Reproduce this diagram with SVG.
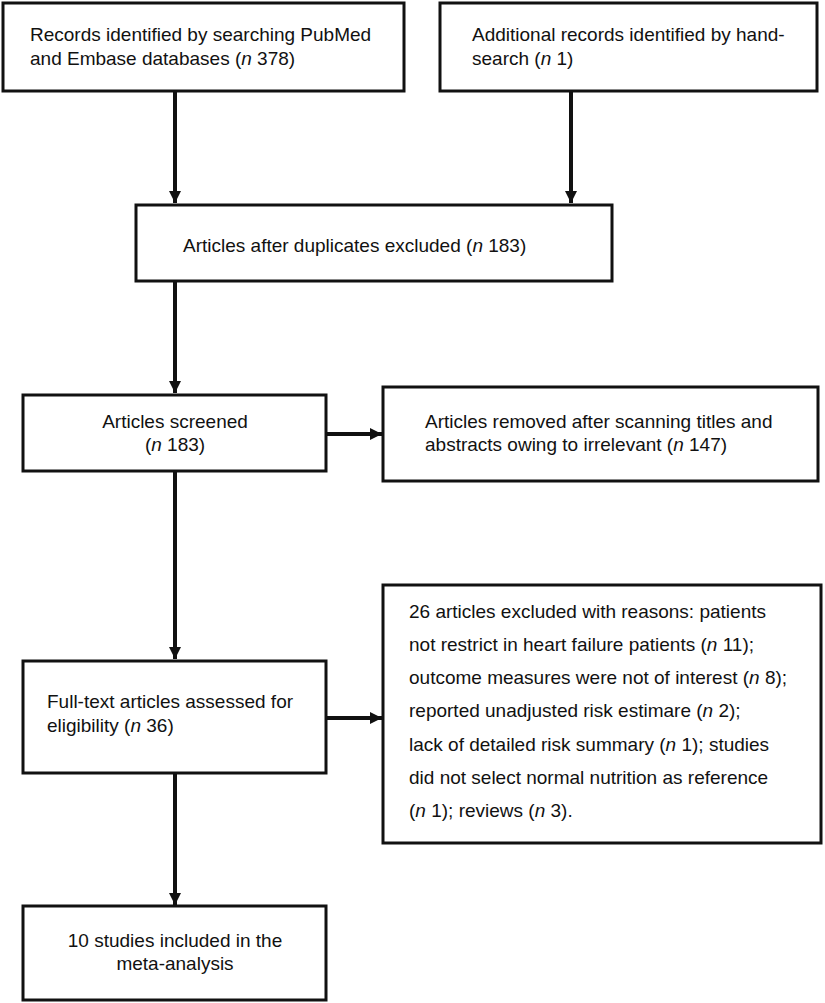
<svg xmlns="http://www.w3.org/2000/svg" width="825" height="1003" viewBox="0 0 825 1003">
<defs>
<style>
.box{fill:#fff;stroke:#111;stroke-width:3}
.t{font-family:"Liberation Sans",Arial,sans-serif;font-size:19px;fill:#111}
.c{text-anchor:middle}
.con{stroke:#111;stroke-width:4;fill:none}
</style>
<marker id="ah" markerUnits="userSpaceOnUse" markerWidth="14" markerHeight="14" viewBox="0 0 14 14" refX="12" refY="7" orient="auto">
<path d="M0,1 L12,7 L0,13 Z" fill="#111"/>
</marker>
</defs>
<rect width="825" height="1003" fill="#fff"/>
<g id="connectors">
<line class="con" x1="175" y1="91" x2="175" y2="203" marker-end="url(#ah)"/>
<line class="con" x1="571" y1="91" x2="571" y2="203" marker-end="url(#ah)"/>
<line class="con" x1="175" y1="281" x2="175" y2="393" marker-end="url(#ah)"/>
<line class="con" x1="326" y1="434" x2="382" y2="434" marker-end="url(#ah)"/>
<line class="con" x1="175" y1="471" x2="175" y2="659" marker-end="url(#ah)"/>
<line class="con" x1="326" y1="718" x2="382" y2="718" marker-end="url(#ah)"/>
<line class="con" x1="175" y1="773" x2="175" y2="905" marker-end="url(#ah)"/>
</g>
<g id="n1">
<rect class="box" x="3" y="3" width="401" height="88"/>
<text class="t" x="30" y="41">Records identified by searching PubMed</text>
<text class="t" x="30" y="65">and Embase databases (<tspan font-style="italic">n</tspan> 378)</text>
</g>
<g id="n2">
<rect class="box" x="440" y="3" width="377" height="88"/>
<text class="t" x="472" y="41">Additional records identified by hand-</text>
<text class="t" x="472" y="65">search (<tspan font-style="italic">n</tspan> 1)</text>
</g>
<g id="n3">
<rect class="box" x="136" y="205" width="476" height="76"/>
<text class="t" x="183" y="252">Articles after duplicates excluded (<tspan font-style="italic">n</tspan> 183)</text>
</g>
<g id="n4">
<rect class="box" x="23" y="395" width="303" height="76"/>
<text class="t c" x="175" y="428">Articles screened</text>
<text class="t c" x="175" y="451">(<tspan font-style="italic">n</tspan> 183)</text>
</g>
<g id="n5">
<rect class="box" x="383" y="387" width="435" height="94"/>
<text class="t" x="425" y="428">Articles removed after scanning titles and</text>
<text class="t" x="425" y="451">abstracts owing to irrelevant (<tspan font-style="italic">n</tspan> 147)</text>
</g>
<g id="n6">
<rect class="box" x="23" y="661" width="303" height="112"/>
<text class="t" x="47" y="708">Full-text articles assessed for</text>
<text class="t" x="47" y="732">eligibility (<tspan font-style="italic">n</tspan> 36)</text>
</g>
<g id="n7">
<rect class="box" x="383" y="585" width="438" height="258"/>
<text class="t" x="409" y="618">26 articles excluded with reasons: patients</text>
<text class="t" x="409" y="651">not restrict in heart failure patients (<tspan font-style="italic">n</tspan> 11);</text>
<text class="t" x="409" y="684">outcome measures were not of interest (<tspan font-style="italic">n</tspan> 8);</text>
<text class="t" x="409" y="717">reported unadjusted risk estimare (<tspan font-style="italic">n</tspan> 2);</text>
<text class="t" x="409" y="751">lack of detailed risk summary (<tspan font-style="italic">n</tspan> 1); studies</text>
<text class="t" x="409" y="784">did not select normal nutrition as reference</text>
<text class="t" x="409" y="817">(<tspan font-style="italic">n</tspan> 1); reviews (<tspan font-style="italic">n</tspan> 3).</text>
</g>
<g id="n8">
<rect class="box" x="23" y="906" width="303" height="94"/>
<text class="t c" x="175" y="947">10 studies included in the</text>
<text class="t c" x="175" y="970">meta-analysis</text>
</g>
</svg>
